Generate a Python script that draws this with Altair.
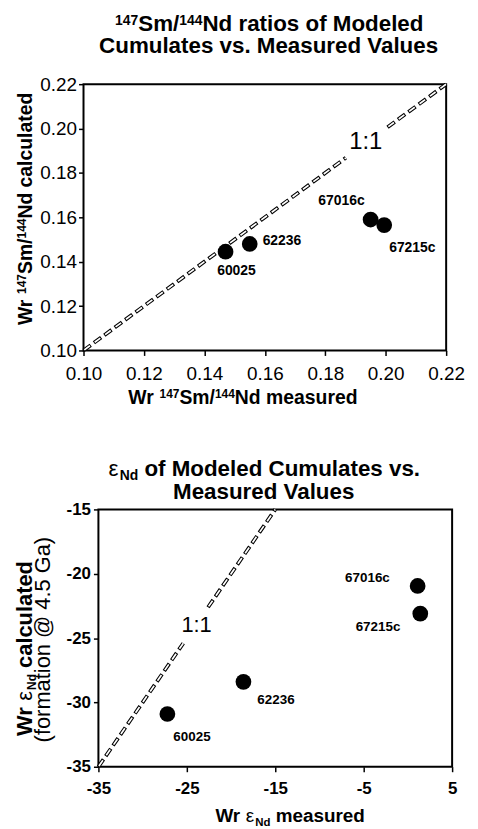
import altair as alt
import pandas as pd

# ---------------- data ----------------
samples = ["60025", "62236", "67016c", "67215c"]
sm_measured = [0.147, 0.155, 0.195, 0.1995]
sm_calculated = [0.1445, 0.148, 0.159, 0.1565]
eps_measured = [-27.2, -18.6, 1.1, 1.4]
eps_calculated = [-30.9, -28.4, -20.95, -23.1]

sm_ticks = [0.10, 0.12, 0.14, 0.16, 0.18, 0.20, 0.22]
eps_x_ticks = [-35, -25, -15, -5, 5]
eps_y_ticks = [-35, -30, -25, -20, -15]

# 1:1 reference line (y = x), in two pieces broken around its label
sm_line_x = [[0.10, 0.1868], [0.2006, 0.22]]
eps_line_x = [[-35, -25.4], [-22.6, -15]]
sm_ratio_label = [0.1934, 0.1939]
eps_ratio_label = [-23.9, -24.0]

FONT = "Liberation Sans"

# Arial / Liberation Sans advance widths (per 1000 em) for rich-text layout
BOLD_W = {' ': 278, '/': 278, '.': 278, '(': 333, ')': 333, '@': 975, ':': 333,
          'a': 556, 'c': 556, 'd': 611, 'e': 556, 'f': 333, 'i': 278, 'l': 278,
          'm': 889, 'n': 611, 'o': 611, 'r': 389, 's': 556, 't': 333, 'u': 611,
          'v': 556, 'C': 722, 'G': 778, 'M': 833, 'N': 722, 'S': 667, 'V': 667,
          'W': 944, 'ε': 500}
REG_W = {' ': 278, '/': 278, '.': 278, '(': 333, ')': 333, '@': 1015, ':': 278,
         'a': 556, 'c': 500, 'd': 556, 'e': 556, 'f': 278, 'i': 222, 'l': 222,
         'm': 833, 'n': 556, 'o': 556, 'r': 333, 's': 500, 't': 278, 'u': 556,
         'v': 500, 'C': 722, 'G': 778, 'M': 833, 'N': 722, 'S': 667, 'V': 667,
         'W': 944, 'ε': 500}


def text_width(s, size, bold):
    table = BOLD_W if bold else REG_W
    return sum(table.get(c, 556) for c in s) * size / 1000.0


def rich_line(segs, cx, cy, angle=0):
    """segs: (text, size, bold, shift_up). Returns text layers centred on (cx, cy)."""
    total = sum(text_width(t, s, b) for t, s, b, _ in segs)
    pos = -total / 2.0
    layers = []
    one = pd.DataFrame({"k": [0]})
    for t, s, b, sh in segs:
        lead = len(t) - len(t.lstrip(" "))
        p = pos + text_width(" " * lead, s, b)
        if angle == 0:
            x, y = cx + p, cy - sh
        else:  # 270: reads bottom-to-top, "up" is screen-left
            x, y = cx - sh, cy - p
        shown = t.strip(" ")
        if shown:
            layers.append(
                alt.Chart(one).mark_text(
                    align="left", baseline="alphabetic", font=FONT, fontSize=s,
                    fontWeight="bold" if b else "normal", color="black", angle=angle
                ).encode(x=alt.value(x), y=alt.value(y), text=alt.value(shown))
            )
        pos += text_width(t, s, b)
    return layers


def make_axis(values, weight, size, pad, offset=0):
    kw = dict(title=None, values=values, domain=False, grid=False,
              ticks=True, tickColor="black", tickWidth=1.5, tickSize=5,
              labelFont=FONT, labelFontSize=size, labelFontWeight=weight,
              labelColor="black", labelPadding=pad, labelFlush=False,
              labelOverlap=False)
    if weight == "normal":
        kw["format"] = ".2f"
    else:
        kw["labelExpr"] = "datum.value < 0 ? '-' + format(-datum.value, 'd') : format(datum.value, 'd')"
    if offset:
        kw["offset"] = offset
    return alt.Axis(**kw)


def panel(xv, yv, xdom, ydom, xticks, yticks, line_x, ratio_xy, ratio_size,
          tick_weight, tick_size, ypad, xrange, width, height,
          label_size, label_pos, yoffset, texts):
    sx = alt.Scale(domain=xdom, nice=False, zero=False, range=xrange)
    sy = alt.Scale(domain=ydom, nice=False, zero=False)
    ax = make_axis(xticks, tick_weight, tick_size, 9)
    ay = make_axis(yticks, tick_weight, tick_size, ypad, yoffset)

    pts = pd.DataFrame({"sample": samples, "x": xv, "y": yv})
    rows = []
    for i, seg in enumerate(line_x):
        for v in seg:
            rows.append({"seg": i, "x": v, "y": v})
    ldf = pd.DataFrame(rows)
    box = pd.DataFrame({"x0": [xdom[0]], "x1": [xdom[1]], "y0": [ydom[0]], "y1": [ydom[1]]})
    rdf = pd.DataFrame({"x": [ratio_xy[0]], "y": [ratio_xy[1]], "t": ["1:1"]})

    X = lambda f: alt.X(f, scale=sx, axis=ax)
    Y = lambda f: alt.Y(f, scale=sy, axis=ay)

    layers = [
        alt.Chart(box).mark_rect(fillOpacity=0, stroke="black", strokeWidth=2).encode(
            x=X("x0:Q"), x2="x1", y=Y("y0:Q"), y2="y1"),
        alt.Chart(ldf).mark_line(color="black", strokeWidth=3.8, strokeDash=[9, 4]).encode(
            x=X("x:Q"), y=Y("y:Q"), detail="seg:N"),
        alt.Chart(ldf).mark_line(color="white", strokeWidth=1.7, strokeDash=[7, 6],
                                 strokeDashOffset=12).encode(
            x=X("x:Q"), y=Y("y:Q"), detail="seg:N"),
        alt.Chart(pts).mark_circle(size=250, color="black", opacity=1).encode(
            x=X("x:Q"), y=Y("y:Q")),
        alt.Chart(rdf).mark_text(font=FONT, fontSize=ratio_size, color="black",
                                 align="center", baseline="middle").encode(
            x=X("x:Q"), y=Y("y:Q"), text="t:N"),
    ]
    for s, (al, dx, dy) in zip(samples, label_pos):
        layers.append(
            alt.Chart(pts).transform_filter(alt.datum.sample == s).mark_text(
                align=al, baseline="middle", dx=dx, dy=dy, font=FONT,
                fontSize=label_size, fontWeight="bold", color="black"
            ).encode(x=X("x:Q"), y=Y("y:Q"), text="sample:N")
        )
    layers += texts
    return alt.layer(*layers).properties(width=width, height=height)


# ---------------- top panel ----------------
top_texts = []
top_texts += rich_line([("147", 14, True, 6), ("Sm/", 22.5, True, 0), ("144", 14, True, 6),
                        ("Nd ratios of Modeled", 22.5, True, 0)], 187, -54)
top_texts += rich_line([("Cumulates vs. Measured Values", 22.5, True, 0)], 187, -31)
top_texts += rich_line([("Wr ", 19.5, True, 0), ("147", 12, True, 6), ("Sm/", 19.5, True, 0),
                        ("144", 12, True, 6), ("Nd calculated", 19.5, True, 0)],
                       -51.5, 125.5, angle=270)
top_texts += rich_line([("Wr ", 19.5, True, 0), ("147", 12, True, 6), ("Sm/", 19.5, True, 0),
                        ("144", 12, True, 6), ("Nd measured", 19.5, True, 0)], 160.5, 322)

top = panel(sm_measured, sm_calculated, [0.10, 0.22], [0.10, 0.22], sm_ticks, sm_ticks,
            sm_line_x, sm_ratio_label, 24, "normal", 19, 2, [0, 365], 365, 268,
            14, [("center", 11, 19), ("left", 13, -3), ("right", -6, -19), ("left", 5, 23)],
            0, top_texts)

# ---------------- bottom panel ----------------
bot_texts = []
bot_texts += rich_line([("ε", 22.5, False, 0), ("Nd", 14, True, -4),
                        (" of Modeled Cumulates vs.", 22.5, True, 0)], 182, -33.5)
bot_texts += rich_line([("Measured Values", 22.5, True, 0)], 182, -10.5)
bot_texts += rich_line([("Wr ", 22, True, 0), ("ε", 22, False, 0), ("Nd", 12, True, -4),
                        (" calculated", 22, True, 0)], -51.5, 140, angle=270)
bot_texts += rich_line([("(formation @ 4.5 Ga)", 22, False, 0)], -34, 131, angle=270)
bot_texts += rich_line([("Wr ", 19, True, 0), ("ε", 19, False, 0), ("Nd", 11.5, True, -4),
                        (" measured", 19, True, 0)], 208, 315)

bottom = panel(eps_measured, eps_calculated, [-35, 5], [-35, -15], eps_x_ticks, eps_y_ticks,
               eps_line_x, eps_ratio_label, 22, "bold", 17, 3, [15, 371], 371, 259,
               13.5, [("left", 6, 23), ("left", 14, 18), ("right", -28, -8), ("right", -20, 13)],
               -15, bot_texts)

chart = alt.vconcat(top, bottom, spacing=160, bounds="flush").properties(
    padding={"left": 6, "top": 2, "right": 5, "bottom": 0}
).configure_view(strokeWidth=0)

chart.save("out.html", embed_options={"renderer": "svg", "actions": False})
